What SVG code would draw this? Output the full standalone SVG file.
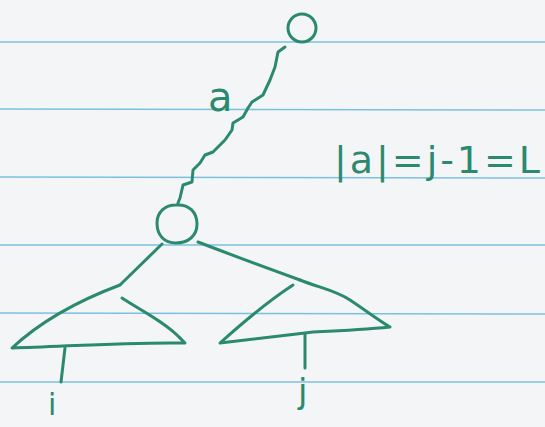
<svg xmlns="http://www.w3.org/2000/svg" width="545" height="427" viewBox="0 0 545 427">
<style>
.rule{stroke:#7cc0e0;stroke-width:1.6;fill:none}
.ink{stroke:#2b8a6e;stroke-width:3;fill:none;stroke-linecap:round;stroke-linejoin:round}
.txt{fill:#2b8a6e;font-family:"DejaVu Sans","Liberation Sans",sans-serif}
</style>
<rect width="545" height="427" fill="#f4f5f7"/>
<g id="paper">
<line class="rule" x1="0" y1="42" x2="545" y2="42"/>
<line class="rule" x1="0" y1="109" x2="545" y2="110"/>
<line class="rule" x1="0" y1="177" x2="545" y2="178"/>
<line class="rule" x1="0" y1="245" x2="545" y2="245"/>
<line class="rule" x1="0" y1="313" x2="545" y2="314"/>
<line class="rule" x1="0" y1="382" x2="545" y2="382"/>
</g>
<g id="connectors">
<path class="ink" d="M285,47 L278,52 L275,67 L270,80 L263,95 L252,102 L248,108 L243,117 L233,123 L232,130 L225,140 L213,152 L205,155 L200,163 L193,170 L192,182 L183,185 L180,198 L178,203"/>
<path class="ink" d="M162,244 L121,284"/>
<path class="ink" d="M198,242 Q250,262 300,280"/>
</g>
<g id="node-top">
<circle class="ink" cx="302" cy="28" r="14"/>
</g>
<g id="node-mid">
<path class="ink" d="M176,205 C189,204 197,212 197,224 C197,236 188,243 176,243 C164,243 157,235 157,223 C157,212 165,205 176,205 Z"/>
</g>
<g id="tree-i">
<path class="ink" d="M120,285 C80,300 40,322 12,348 C60,347 120,342 185,343 L180,338"/>
<path class="ink" d="M122,298 C140,310 165,322 180,338"/>
<path class="ink" d="M65,348 L61,382"/>
</g>
<g id="tree-j">
<path class="ink" d="M300,280 C320,288 335,290 350,300 C368,312 378,320 390,327 C360,330 335,331 313,332 C280,336 245,340 220,343 C240,325 270,300 293,285"/>
<path class="ink" d="M305,334 L305,368"/>
</g>
<g id="labels">
<text class="txt" x="208" y="111" font-size="40">a</text>
<text class="txt" x="334" y="173" font-size="38" textLength="206" lengthAdjust="spacing">|a|=j-1=L</text>
<text class="txt" x="48" y="415" font-size="30">i</text>
<text class="txt" x="298" y="403" font-size="34">j</text>
</g>
</svg>
